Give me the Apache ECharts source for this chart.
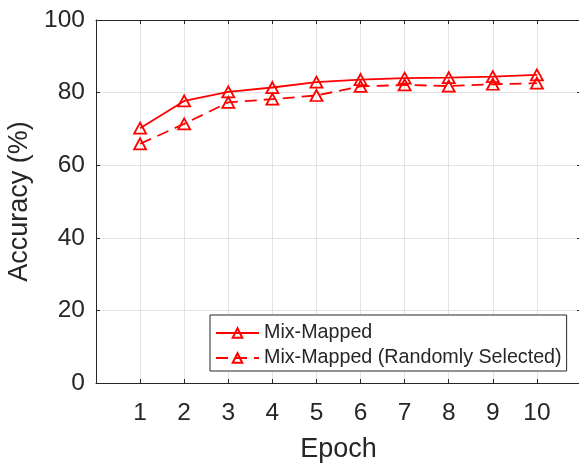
<!DOCTYPE html>
<html>
<head>
<meta charset="utf-8">
<script src="https://cdn.jsdelivr.net/npm/echarts@6/dist/echarts.min.js"></script>
<style>
html,body{margin:0;padding:0;background:#fff;}
#c{width:579px;height:465px;}
</style>
</head>
<body>
<div id="c"></div>
<script>
const epochs = [1, 2, 3, 4, 5, 6, 7, 8, 9, 10];
const mixMapped = [70.2, 77.7, 80.2, 81.4, 82.9, 83.6, 84.0, 84.1, 84.4, 84.9];
const mixMappedRandom = [65.9, 71.4, 77.3, 78.2, 79.2, 81.7, 82.1, 81.8, 82.3, 82.6];
const seriesNames = ['Mix-Mapped', 'Mix-Mapped (Randomly Selected)'];
const yTicks = [0, 20, 40, 60, 80, 100];

const FONT = 'Liberation Sans';
const TXT = '#262626';

const chart = echarts.init(document.getElementById('c'), null, {renderer: 'canvas'});

function pairs(ys) { return epochs.map((x, i) => [x, ys[i]]); }

const common = {
  type: 'line',
  symbol: 'triangle',
  symbolSize: [12, 11],
  itemStyle: {color: 'rgba(255,255,255,0)', borderColor: '#ff0000', borderWidth: 1.8},
  emphasis: {disabled: true},
  animation: false,
  z: 5
};

chart.setOption({
  animation: false,
  backgroundColor: '#ffffff',
  grid: {left: 96, top: 20, width: 485, height: 363, containLabel: false, outerBoundsMode: 'none'},
  xAxis: [{
    type: 'value', min: 0, max: 11, interval: 1,
    name: 'Epoch', nameLocation: 'middle', nameGap: 53,
    nameTextStyle: {fontFamily: FONT, fontSize: 27, color: TXT},
    axisLine: {show: true, lineStyle: {color: TXT, width: 1}},
    axisTick: {show: true, inside: true, length: 4, lineStyle: {color: TXT}},
    axisLabel: {fontFamily: FONT, fontSize: 24.5, color: TXT, margin: 18,
      formatter: v => (v >= 1 && v <= 10) ? String(v) : ''},
    splitLine: {show: true, lineStyle: {color: '#e3e3e3', width: 1}}
  }, {
    type: 'value', min: 0, max: 11, interval: 1, position: 'top',
    axisLine: {show: true, onZero: false, lineStyle: {color: TXT, width: 1}},
    axisTick: {show: true, inside: true, length: 4, lineStyle: {color: TXT}},
    axisLabel: {show: false}, splitLine: {show: false}
  }],
  yAxis: [{
    type: 'value', min: 0, max: 100, interval: 20,
    name: 'Accuracy (%)', nameLocation: 'middle', nameGap: 63,
    nameTextStyle: {fontFamily: FONT, fontSize: 27, color: TXT},
    axisLine: {show: true, lineStyle: {color: TXT, width: 1}},
    axisTick: {show: true, inside: true, length: 4, lineStyle: {color: TXT}},
    axisLabel: {fontFamily: FONT, fontSize: 24.5, color: TXT, margin: 11,
      formatter: v => yTicks.includes(v) ? String(v) : ''},
    splitLine: {show: true, lineStyle: {color: '#e3e3e3', width: 1}}
  }, {
    type: 'value', min: 0, max: 100, interval: 20, position: 'right',
    axisLine: {show: true, onZero: false, lineStyle: {color: TXT, width: 1}},
    axisTick: {show: true, inside: true, length: 4, lineStyle: {color: TXT}},
    axisLabel: {show: false}, splitLine: {show: false}
  }],
  legend: {
    orient: 'vertical',
    left: 210, top: 315,
    padding: [8, 5, 3, 5],
    itemGap: 5,
    itemWidth: 43, itemHeight: 12,
    backgroundColor: '#ffffff',
    borderColor: TXT, borderWidth: 1, borderRadius: 0,
    textStyle: {fontFamily: FONT, fontSize: 19.7, color: TXT},
    data: seriesNames
  },
  series: [
    Object.assign({}, common, {
      name: seriesNames[0],
      data: pairs(mixMapped),
      lineStyle: {color: '#ff0000', width: 1.8, type: 'solid'}
    }),
    Object.assign({}, common, {
      name: seriesNames[1],
      data: pairs(mixMappedRandom),
      lineStyle: {color: '#ff0000', width: 1.8, type: [12, 7]}
    })
  ]
});
</script>
</body>
</html>
